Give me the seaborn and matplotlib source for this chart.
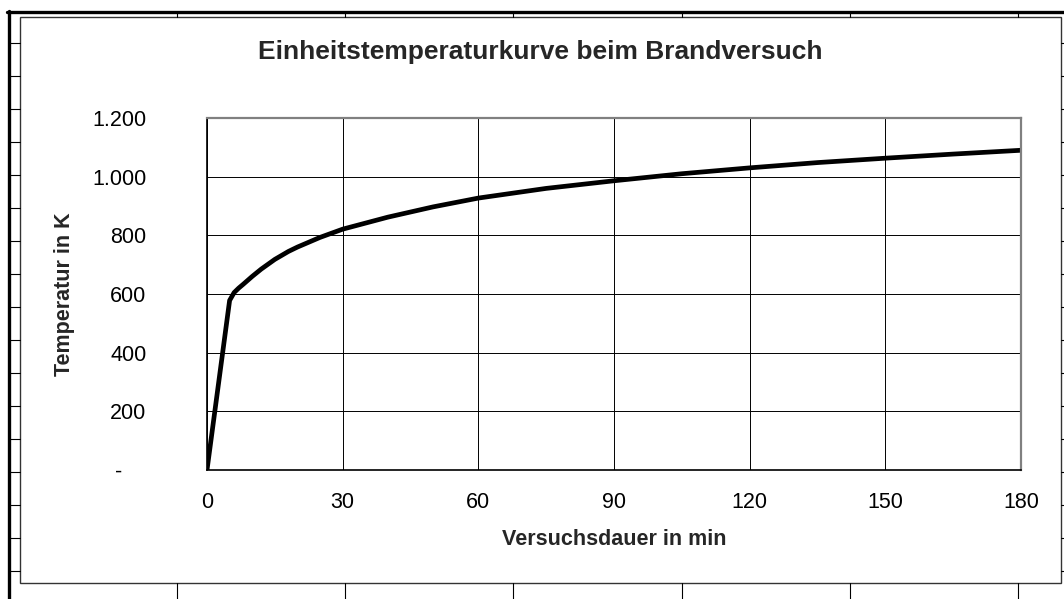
import matplotlib
matplotlib.use("Agg")
import matplotlib.pyplot as plt
from matplotlib.lines import Line2D
from matplotlib.patches import Rectangle
import seaborn as sns
import pandas as pd

# values (Einheitstemperaturkurve)
minutes = [0, 5, 6, 7, 8, 10, 12, 15, 18, 20, 25, 30, 40, 50, 60, 75, 90, 105, 120, 135, 150, 165, 180]
temp_k = [0, 578, 605, 620, 633, 660, 685, 718, 745, 760, 793, 821, 862, 897, 927, 960, 986, 1010, 1030, 1048, 1063, 1077, 1090]
x_ticks = [0, 30, 60, 90, 120, 150, 180]
y_ticks = [0, 200, 400, 600, 800, 1000, 1200]
y_labels = ["-    ", "200", "400", "600", "800", "1.000", "1.200"]

df = pd.DataFrame({"Versuchsdauer": minutes, "Temperatur": temp_k})

sns.set_style("white")
plt.rcParams["font.family"] = ["Liberation Sans", "DejaVu Sans"]

W, H = 1064, 599
fig = plt.figure(figsize=(W / 100, H / 100), dpi=100)


def fx(px):
    return px / W


def fy(py):
    return 1 - py / H


# spreadsheet cell borders behind the chart
for k in range(17):
    y = 43.3 + 33.0 * k
    fig.add_artist(Line2D([fx(8), fx(19.5)], [fy(y), fy(y)], color="black", lw=0.8))
    fig.add_artist(Line2D([fx(1061), fx(1064)], [fy(y), fy(y)], color="black", lw=0.8))
for k in range(6):
    x = 176.7 + 168.3 * k
    fig.add_artist(Line2D([fx(x), fx(x)], [fy(12), fy(16.5)], color="black", lw=0.8))
    fig.add_artist(Line2D([fx(x), fx(x)], [fy(583), fy(599)], color="black", lw=0.8))
fig.add_artist(Line2D([fx(8.5), fx(8.5)], [fy(11), fy(599)], color="black", lw=2.4))
fig.add_artist(Line2D([fx(7), fx(1064)], [fy(12), fy(12)], color="black", lw=2.4))

# chart area frame
fig.add_artist(Rectangle((fx(19.5), fy(583)), fx(1061 - 19.5), (583 - 16.5) / H,
                         fill=False, edgecolor="#333333", lw=1.0))

ax = fig.add_axes([fx(207), fy(470), fx(1021 - 207), (470 - 118) / H])
sns.lineplot(data=df, x="Versuchsdauer", y="Temperatur", color="black", lw=3.4, ax=ax)

ax.set_xlim(0, 180)
ax.set_ylim(0, 1200)
ax.set_xticks(x_ticks)
ax.set_xticklabels([str(v) for v in x_ticks])
ax.set_yticks(y_ticks)
ax.set_yticklabels(y_labels)
ax.grid(True, color="black", lw=0.7)
ax.tick_params(axis="both", direction="inout", length=9, width=1, labelsize=15.5, colors="black")
ax.tick_params(axis="y", pad=39)
ax.tick_params(axis="x", pad=11)

for side in ["top", "right"]:
    ax.spines[side].set_color("#808080")
    ax.spines[side].set_linewidth(1.6)
for side in ["left", "bottom"]:
    ax.spines[side].set_color("black")
    ax.spines[side].set_linewidth(1.2)

ax.set_xlabel("Versuchsdauer in min", fontsize=15.5, fontweight="bold", labelpad=12)
ax.set_ylabel("Temperatur in K", fontsize=15.5, fontweight="bold")
ax.yaxis.set_label_coords((75 - 207) / (1021 - 207), 0.5)

fig.text(fx(540), fy(52), "Einheitstemperaturkurve beim Brandversuch",
         ha="center", va="center", fontsize=19, fontweight="bold")

fig.savefig("out.png", dpi=100)
